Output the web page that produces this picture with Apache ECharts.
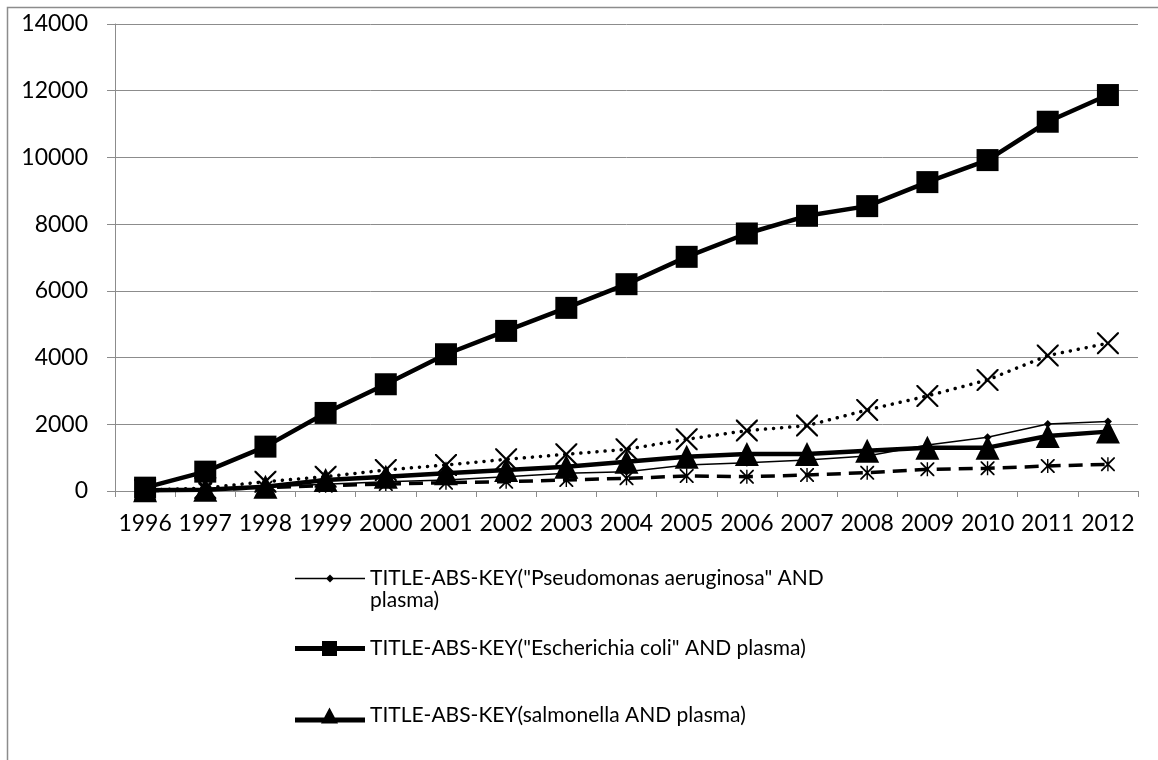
<html>
<head>
<meta charset="utf-8" />
<title>TITLE-ABS-KEY plasma</title>
<script src="https://cdn.jsdelivr.net/npm/echarts@6/dist/echarts.min.js"></script>
<style type="text/css">
html, body { margin: 0; padding: 0; background: #fff; }
#echarts { width: 1158px; height: 760px; }
</style>
</head>
<body>
<div id="echarts"></div>
<script type="text/javascript">
var years = ['1996', '1997', '1998', '1999', '2000', '2001', '2002', '2003', '2004',
    '2005', '2006', '2007', '2008', '2009', '2010', '2011', '2012'];
var pseudomonas = [20, 60, 120, 200, 280, 330, 430, 530, 580, 780, 850, 930, 1050, 1380, 1610, 2010, 2080];
var ecoli = [100, 580, 1330, 2340, 3200, 4100, 4800, 5490, 6200, 7020, 7720, 8250, 8540, 9260, 9920, 11070, 11870];
var salmonella = [20, 40, 130, 330, 430, 530, 630, 730, 880, 1030, 1110, 1110, 1210, 1300, 1300, 1650, 1780];
var crossed = [30, 90, 280, 430, 630, 780, 950, 1100, 1250, 1550, 1810, 1960, 2430, 2850, 3330, 4060, 4430];
var starred = [10, 40, 100, 160, 210, 250, 280, 330, 380, 450, 430, 480, 550, 650, 680, 750, 800];

var names = [
    'TITLE-ABS-KEY("Pseudomonas aeruginosa" AND',
    'TITLE-ABS-KEY("Escherichia coli" AND plasma)',
    'TITLE-ABS-KEY(salmonella AND plasma)'
];

// X and asterisk markers as filled outlines
var xPath = 'path://M0,0L7,0L50,43L93,0L100,0L100,7L57,50L100,93L100,100L93,100L50,57L7,100L0,100L0,93L43,50L0,7Z';
var starPath = 'path://M0,0L9,0L50,41L91,0L100,0L100,9L59,50L100,91L100,100L91,100L50,59L9,100L0,100L0,91L41,50L0,9Z' +
    'M45,0L55,0L55,100L45,100Z';

// legend icons: line + marker, drawn in a 70 wide box
var iconThin = 'path://M0,3.3L70,3.3L70,4.7L0,4.7ZM35,0L39,4L35,8L31,4Z';
var iconSquare = 'path://M0,5L70,5L70,10L0,10ZM27,0L42,0L42,15L27,15Z';
var iconTri = 'path://M0,10L70,10L70,15L0,15ZM34.5,0L43,16L26,16Z';

var font = 'Lato, "Open Sans", sans-serif';

var myChart = echarts.init(document.getElementById('echarts'));

function legendAt(name, icon, top, h) {
    return {
        data: [{ name: name, icon: icon }],
        left: 295,
        top: top,
        orient: 'vertical',
        itemWidth: 70,
        itemHeight: h,
        itemGap: 0,
        padding: 0,
        selectedMode: false,
        textStyle: { fontFamily: font, fontSize: 21, color: '#000' }
    };
}

var option = {
    animation: false,
    backgroundColor: '#fff',
    textStyle: { fontFamily: font },
    graphic: [{
        type: 'rect',
        shape: { x: 7.5, y: 7.5, width: 1300, height: 900 },
        style: { fill: 'none', stroke: '#8c8c8c', lineWidth: 1.5 }
    }, {
        type: 'text',
        left: 370,
        top: 590,
        style: { text: 'plasma)', font: '21px ' + font, fill: '#000' }
    }],
    grid: { left: 115, right: 20, top: 24, bottom: 269 },
    legend: [
        legendAt(names[0], iconThin, 568, 8),
        legendAt(names[1], iconSquare, 638, 15),
        legendAt(names[2], iconTri, 705, 16)
    ],
    xAxis: {
        type: 'category',
        data: years,
        boundaryGap: true,
        axisLine: { lineStyle: { color: '#8c8c8c', width: 1 } },
        axisTick: { show: true, length: 6, lineStyle: { color: '#8c8c8c' } },
        axisLabel: { color: '#000', fontSize: 23, fontFamily: font, margin: 21, interval: 0 }
    },
    yAxis: {
        type: 'value',
        min: 0,
        max: 14000,
        interval: 2000,
        axisLine: { show: true, lineStyle: { color: '#8c8c8c', width: 1 } },
        axisTick: { show: true, length: 8, lineStyle: { color: '#8c8c8c' } },
        axisLabel: {
            color: '#000', fontSize: 23, fontFamily: font, margin: 27,
            formatter: function (v) { return String(v); }
        },
        splitLine: { lineStyle: { color: '#8c8c8c', width: 1 } }
    },
    series: [{
        name: 'crossed',
        type: 'line',
        data: crossed,
        symbol: xPath,
        symbolSize: 22,
        itemStyle: { color: '#000' },
        lineStyle: { color: '#000', width: 3.5, type: [0.1, 8], cap: 'round' }
    }, {
        name: 'starred',
        type: 'line',
        data: starred,
        symbol: starPath,
        symbolSize: 14,
        itemStyle: { color: '#000' },
        lineStyle: { color: '#000', width: 3.5, type: [14, 8] }
    }, {
        name: names[0],
        type: 'line',
        data: pseudomonas,
        symbol: 'diamond',
        symbolSize: 8,
        itemStyle: { color: '#000' },
        lineStyle: { color: '#000', width: 1.5 }
    }, {
        name: names[2],
        type: 'line',
        data: salmonella,
        symbol: 'triangle',
        symbolSize: [24, 24],
        itemStyle: { color: '#000' },
        lineStyle: { color: '#000', width: 4.5 }
    }, {
        name: names[1],
        type: 'line',
        data: ecoli,
        symbol: 'rect',
        symbolSize: 22,
        itemStyle: { color: '#000' },
        lineStyle: { color: '#000', width: 4.5 }
    }]
};

myChart.setOption(option);
</script>
</body>
</html>
